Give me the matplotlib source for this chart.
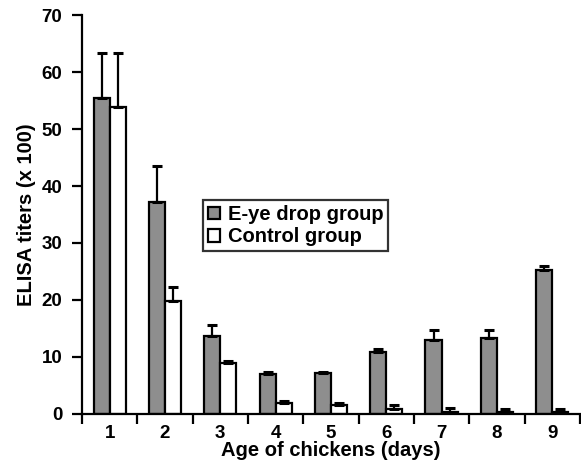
import numpy as np
import matplotlib.pyplot as plt

# data
days = ['1', '2', '3', '4', '5', '6', '7', '8', '9']
eye_drop = [55.5, 37.2, 13.6, 7.0, 7.1, 10.8, 13.0, 13.3, 25.3]
eye_drop_err = [7.8, 6.4, 2.0, 0.3, 0.3, 0.6, 1.7, 1.4, 0.7]
control = [53.8, 19.9, 8.9, 1.9, 1.6, 0.8, 0.3, 0.3, 0.3]
control_err = [9.5, 2.3, 0.45, 0.4, 0.3, 0.8, 0.7, 0.6, 0.6]

plt.rcParams['font.family'] = ['Liberation Sans', 'DejaVu Sans']
plt.rcParams['font.weight'] = 'bold'

fig = plt.figure(figsize=(5.81, 4.73), dpi=100)
ax = fig.add_axes([0.141, 0.125, 0.857, 0.843])

x = np.arange(len(days))
w = 0.29
lw = 1.6
err_kw = dict(ecolor='black', elinewidth=1.6, capsize=3.5, capthick=2.2)
ax.bar(x - w / 2, eye_drop, w, color='#8e8e8e', edgecolor='black', linewidth=lw,
       yerr=[np.zeros(len(x)), eye_drop_err], error_kw=err_kw, label='E-ye drop group')
ax.bar(x + w / 2, control, w, color='white', edgecolor='black', linewidth=lw,
       yerr=[np.zeros(len(x)), control_err], error_kw=err_kw, label='Control group')

ax.set_xlim(-0.5, 8.5)
ax.set_ylim(0, 70)
ax.set_yticks(range(0, 71, 10))
ax.set_xticks(np.arange(-0.5, 8.6, 1))
ax.set_xticklabels([])
ax.set_xticks(x, minor=True)
ax.set_xticklabels(days, minor=True)
ax.tick_params(axis='x', which='minor', length=0, pad=8, labelsize=13.5)
ax.tick_params(axis='x', which='major', length=7, width=1.6, direction='out')
ax.tick_params(axis='y', length=7, width=1.6, direction='out', labelsize=13.5, pad=7)

for s in ['top', 'right']:
    ax.spines[s].set_visible(False)
for s in ['left', 'bottom']:
    ax.spines[s].set_linewidth(1.6)

ax.set_xlabel('Age of chickens (days)', fontsize=14.5, fontweight='bold', labelpad=-1)
ax.set_ylabel('ELISA titers (x 100)', fontsize=14.5, fontweight='bold', labelpad=4)

leg = ax.legend(loc='upper left', bbox_to_anchor=(0.2425, 0.536), fontsize=14.5,
                frameon=True, fancybox=False, edgecolor='black', handlelength=0.6,
                handleheight=0.6, handletextpad=0.4, borderpad=0.25, labelspacing=0.15,
                borderaxespad=0)
leg.get_frame().set_linewidth(1.6)

plt.savefig('out.png', dpi=100)
